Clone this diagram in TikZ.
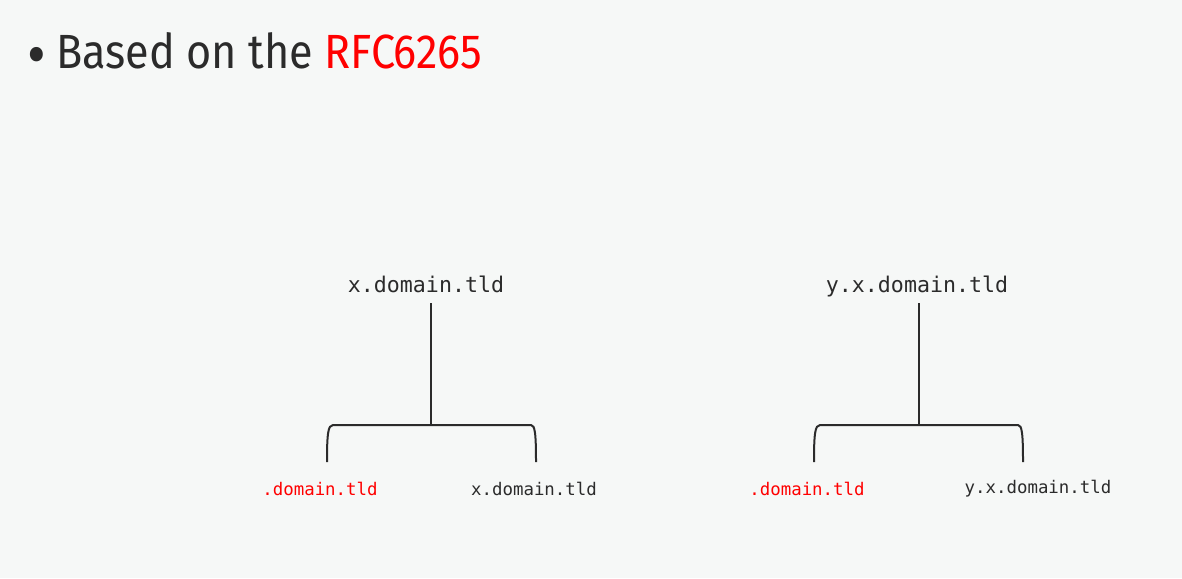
\documentclass[tikz,border=0pt]{standalone}
\usepackage{fontspec}
\usepackage{xcolor}
\setmainfont{Fira Sans}
\setmonofont{DejaVu Sans Mono}
\newfontfamily\headfont{Fira Sans}[FakeStretch=0.9]
\usetikzlibrary{positioning}

\definecolor{bgcol}{HTML}{F6F8F7}
\definecolor{inkcol}{HTML}{2B2B2B}
\definecolor{rfcred}{HTML}{FF0000}

\begin{document}
\begin{tikzpicture}[x=1pt, y=-1pt, inner sep=0pt,
  domtop/.style={font=\ttfamily\fontsize{21.6}{24}\selectfont, text=inkcol, anchor=base},
  domsub/.style={font=\ttfamily\fontsize{17.4}{20}\selectfont, text=inkcol, anchor=base},
  link/.style={draw=inkcol, line width=2pt}]
\fill[bgcol] (0,0) rectangle (1182,578);
\useasboundingbox (0,0) rectangle (1182,578);

% heading
\node (bullet) [text=inkcol, font=\headfont\fontsize{64}{72}\selectfont] at (37,62) {•};
\node (title) [anchor=base west, text=inkcol, font=\headfont\fontsize{48}{56}\selectfont] at (56,68) {Based on the \textcolor{rfcred}{RFC6265}};

% first tree
\node (top1) [domtop] at (426,292) {x.domain.tld};
\node (left1) [domsub, text=rfcred] at (320,495) {.domain.tld};
\node (right1) [domsub] at (534,495) {x.domain.tld};
\coordinate (bar1) at (431,425);
\coordinate (legl1) at (327,462);
\coordinate (legr1) at (536,462);
\draw[link] (431,303) -- (bar1);
\draw[link] (legl1) .. controls (327,434) and (328,425) .. (333,425) -- (bar1) -- (531,425) .. controls (535,425) and (536,434) .. (legr1);

% second tree
\node (top2) [domtop] at (917,292) {y.x.domain.tld};
\node (left2) [domsub, text=rfcred] at (807,495) {.domain.tld};
\node (right2) [domsub] at (1038,493) {y.x.domain.tld};
\coordinate (bar2) at (919,425);
\coordinate (legl2) at (814,462);
\coordinate (legr2) at (1023,462);
\draw[link] (919,303) -- (bar2);
\draw[link] (legl2) .. controls (814,434) and (815,425) .. (820,425) -- (bar2) -- (1018,425) .. controls (1022,425) and (1023,434) .. (legr2);
\end{tikzpicture}
\end{document}
